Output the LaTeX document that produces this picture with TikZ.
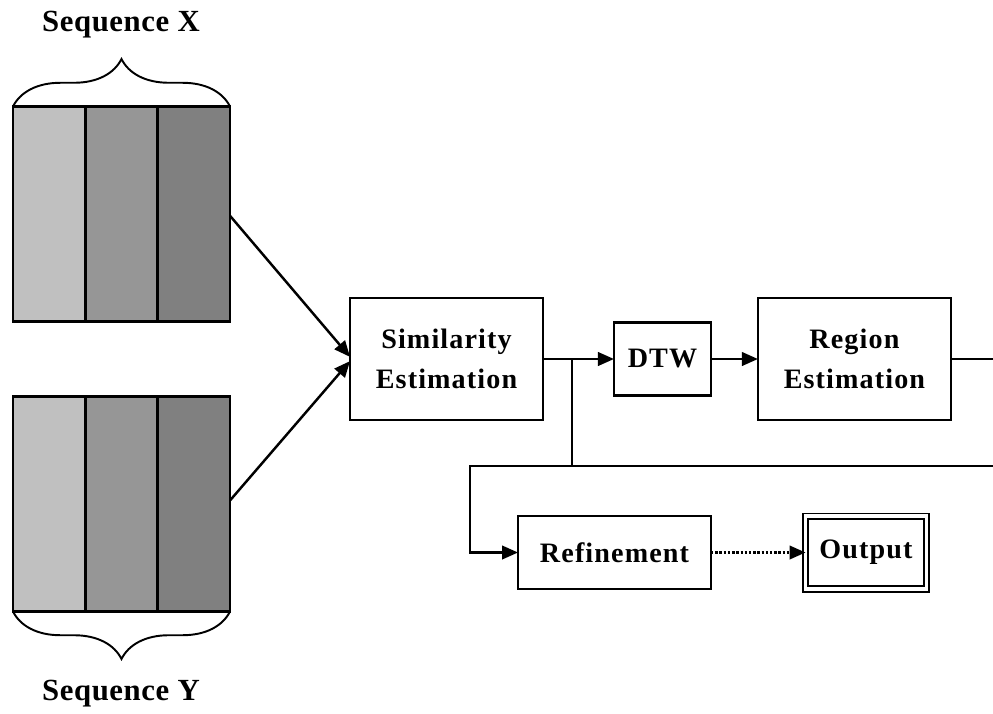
\documentclass[tikz,border=0pt]{standalone}
\usepackage{fontspec}
\setmainfont{Liberation Serif}
\newfontfamily\boxfont[LetterSpace=4]{Liberation Serif}
\newfontfamily\seqfont[LetterSpace=2]{Liberation Serif}
\usepackage{xcolor}
\usetikzlibrary{arrows.meta,positioning,decorations.pathreplacing}

\definecolor{stripeA}{HTML}{C0C0C0}
\definecolor{stripeB}{HTML}{969696}
\definecolor{stripeC}{HTML}{808080}

\begin{document}
\begin{tikzpicture}[x=0.02cm,y=-0.02cm,line width=1.4pt,
    >={Triangle[length=0.32cm,width=0.27cm]},node distance=1.4cm]
  \tikzstyle{block}=[draw,align=center,inner sep=2pt,outer sep=0pt,
    font=\boxfont\fontsize{16}{22.7}\selectfont\bfseries]
  \tikzstyle{stripe}=[draw,inner sep=0pt,outer sep=0pt,
    minimum width=1.447cm,minimum height=4.3cm]
  \tikzstyle{seqlabel}=[font=\seqfont\fontsize{17.5}{22}\selectfont\bfseries]

  \useasboundingbox (0,0) rectangle (993,713);
  \clip (0,0) rectangle (993,713);

  % the two input sequences
  \foreach \s/\y in {X/214,Y/504}
    \foreach \i/\c in {1/stripeA,2/stripeB,3/stripeC}
      \node[stripe,fill=\c] (\s\i) at (13+72.33*\i-36.17,\y) {};

  \draw[line width=1.1pt,decorate,decoration={brace,amplitude=0.95cm}]
    (X1.north west) -- (X3.north east);
  \draw[line width=1.1pt,decorate,decoration={brace,amplitude=0.95cm}]
    (Y3.south east) -- (Y1.south west);
  \node[seqlabel] (labX) at (121,25) {Sequence X};
  \node[seqlabel] (labY) at (121,694) {Sequence Y};

  % processing chain
  \node[block,minimum width=3.86cm,minimum height=2.44cm] (sim) at (446.5,359)
    {Similarity\\Estimation};
  \node[block,minimum width=1.94cm,minimum height=1.46cm] (dtw) [right=1.42cm of sim] {DTW};
  \node[block,minimum width=3.86cm,minimum height=2.44cm] (reg) [right=0.94cm of dtw]
    {Region\\Estimation};
  \node[block,minimum width=3.86cm,minimum height=1.46cm] (ref) at (614.5,552.5) {Refinement};
  \node[block,double,line width=1pt,double distance=2pt,
    minimum width=2.42cm,minimum height=1.46cm] (out) at (866,552.5) {Output};

  \coordinate (split) at (572,359);
  \coordinate (far) at (1010,466);
  \coordinate (back) at (470,466);

  \draw[->] ([yshift=-1pt]X3.east) -- ([yshift=1.2pt]sim.west);
  \draw[->] ([yshift=2pt]Y3.east) -- ([yshift=-1.2pt]sim.west);
  \draw[->] (sim) -- (dtw);
  \draw[->] (dtw) -- (reg);
  \draw (split) -- (split |- far);
  \draw[->] (reg.east) -| (far) -- (back) |- (ref.west);
  \draw[->,densely dotted] (ref) -- (out);
\end{tikzpicture}
\end{document}
